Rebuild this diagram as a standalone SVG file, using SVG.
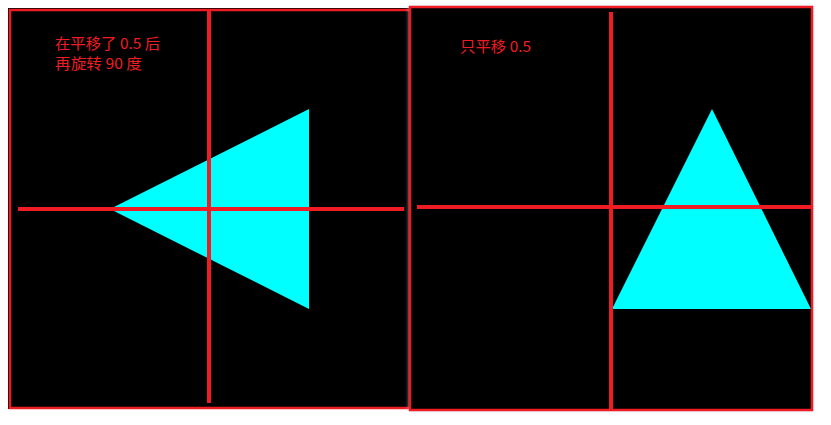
<svg xmlns="http://www.w3.org/2000/svg" width="831" height="425" viewBox="0 0 831 425">
  <defs>
    <style>
      .panel { fill: #000000; }
      .frame { fill: none; stroke: #f01c24; stroke-width: 2.5; }
      .axis { stroke: #f01c24; stroke-width: 4; }
      .tri { fill: #00ffff; }
      .lbl { fill: #f01c24; font-family: "Noto Sans CJK SC", "Liberation Sans", sans-serif; font-size: 15px; }
    </style>
    <filter id="glow" x="-5%" y="-5%" width="110%" height="110%">
      <feGaussianBlur stdDeviation="2"/>
    </filter>
  </defs>
  <rect width="831" height="425" fill="#ffffff"/>

  <g id="left-panel">
    <rect class="panel" x="8" y="8" width="402" height="401"/>
    <polygon class="tri" points="110,209 309,109 309,309"/>
    <line class="axis" x1="18" y1="209" x2="404" y2="209"/>
    <line class="axis" x1="209" y1="10" x2="209" y2="403"/>
    <rect class="frame" x="10" y="10" width="400" height="398"/>
    <text class="lbl" x="55" y="49" textLength="105" lengthAdjust="spacingAndGlyphs">在平移了 0.5 后</text>
    <text class="lbl" x="55" y="69" textLength="87" lengthAdjust="spacingAndGlyphs">再旋转 90 度</text>
  </g>

  <g id="right-panel">
    <rect x="409" y="6" width="404" height="405" fill="#c8dcf4" filter="url(#glow)" opacity="0.7"/>
    <rect class="panel" x="410" y="7" width="402" height="403"/>
    <polygon class="tri" points="612,309 811,309 712,109"/>
    <line class="axis" x1="417" y1="207" x2="812" y2="207"/>
    <line class="axis" x1="611" y1="12" x2="611" y2="409"/>
    <rect class="frame" x="410" y="7" width="402" height="403"/>
    <text class="lbl" x="460" y="52" textLength="71" lengthAdjust="spacingAndGlyphs">只平移 0.5</text>
  </g>
</svg>
